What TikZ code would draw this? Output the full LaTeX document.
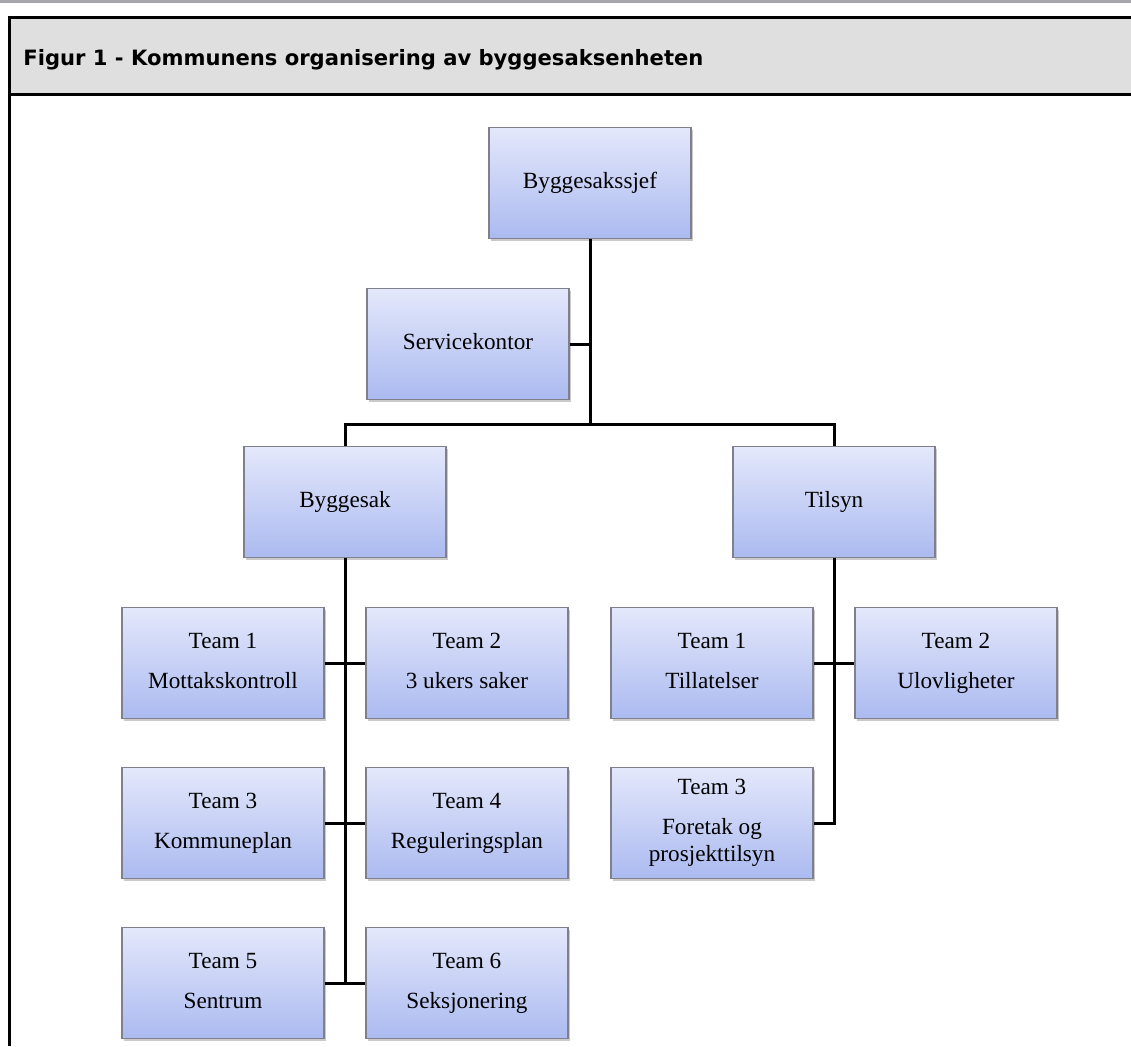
\documentclass[tikz,border=0pt]{standalone}
\usepackage{fontspec}
\setmainfont{Liberation Serif}
\newfontfamily\headfont{DejaVu Sans}
\usetikzlibrary{shadows}
\definecolor{boxtop}{RGB}{228,232,251}
\definecolor{boxbot}{RGB}{171,186,240}
\definecolor{boxline}{RGB}{128,128,140}
\definecolor{headgray}{RGB}{223,223,223}
\definecolor{rulegray}{RGB}{166,166,172}

\begin{document}
\begin{tikzpicture}[x=0.5pt,y=-0.5pt,
  unit/.style={draw=boxline,line width=0.6pt,top color=boxtop,bottom color=boxbot,
    minimum width=101pt,minimum height=55.5pt,inner sep=0pt,align=center,
    font=\fontsize{11.6}{13.5}\selectfont,
    drop shadow={shadow xshift=1.2pt,shadow yshift=-1.2pt,opacity=0.35,fill=black!60}},
  link/.style={line width=1.5pt}]
\useasboundingbox (0,0) rectangle (1131,1046);
% frame and heading
\draw[rulegray,line width=1.3pt] (0,1.5) -- (1131,1.5);
\fill[headgray] (9,17) rectangle (1131,94);
\draw[line width=1.5pt] (9,1046) -- (9,17) -- (1131,17);
\draw[line width=1.5pt] (9,94) -- (1131,94);
\node[anchor=base west,inner sep=0pt,font=\headfont\bfseries\fontsize{10.55}{12}\selectfont] (title) at (23,65)
  {Figur 1 - Kommunens organisering av byggesaksenheten};
% top of the chart
\node[unit] (sjef) at (590,183) {\strut Byggesakssjef};
\node[unit] (service) at (468,344) {\strut Servicekontor};
\node[unit] (bsak) at (345,502) {\strut Byggesak};
\node[unit] (tsyn) at (834,502) {\strut Tilsyn};
% teams
\foreach \n/\x/\y/\txt in {b1/223/663/{Team 1\\[6.5pt]Mottakskontroll}, b2/467/663/{Team 2\\[6.5pt]3 ukers saker},
    b3/223/823/{Team 3\\[6.5pt]Kommuneplan}, b4/467/823/{Team 4\\[6.5pt]Reguleringsplan},
    b5/223/983/{Team 5\\[6.5pt]Sentrum}, b6/467/983/{Team 6\\[6.5pt]Seksjonering},
    t1/712/663/{Team 1\\[6.5pt]Tillatelser}, t2/956/663/{Team 2\\[6.5pt]Ulovligheter},
    t3/712/823/{Team 3\\[6.5pt]Foretak og\\prosjekttilsyn}}
  \node[unit] (\n) at (\x,\y) {\strut\txt\strut};
% lines
\coordinate (hub) at (590,424);
\draw[link] (sjef) -- (hub);
\draw[link] (service.east) -- (service.east -| hub);
\draw[link] (bsak.north) |- (hub) -| (tsyn.north);
\draw[link] (bsak.south) -- (bsak.south |- b5.east);
\foreach \a/\b in {b1/b2, b3/b4, b5/b6, t1/t2}
  \draw[link] (\a.east) -- (\b.west);
\draw[link] (tsyn.south) -- (tsyn.south |- t3.east) -- (t3.east);
\end{tikzpicture}
\end{document}
